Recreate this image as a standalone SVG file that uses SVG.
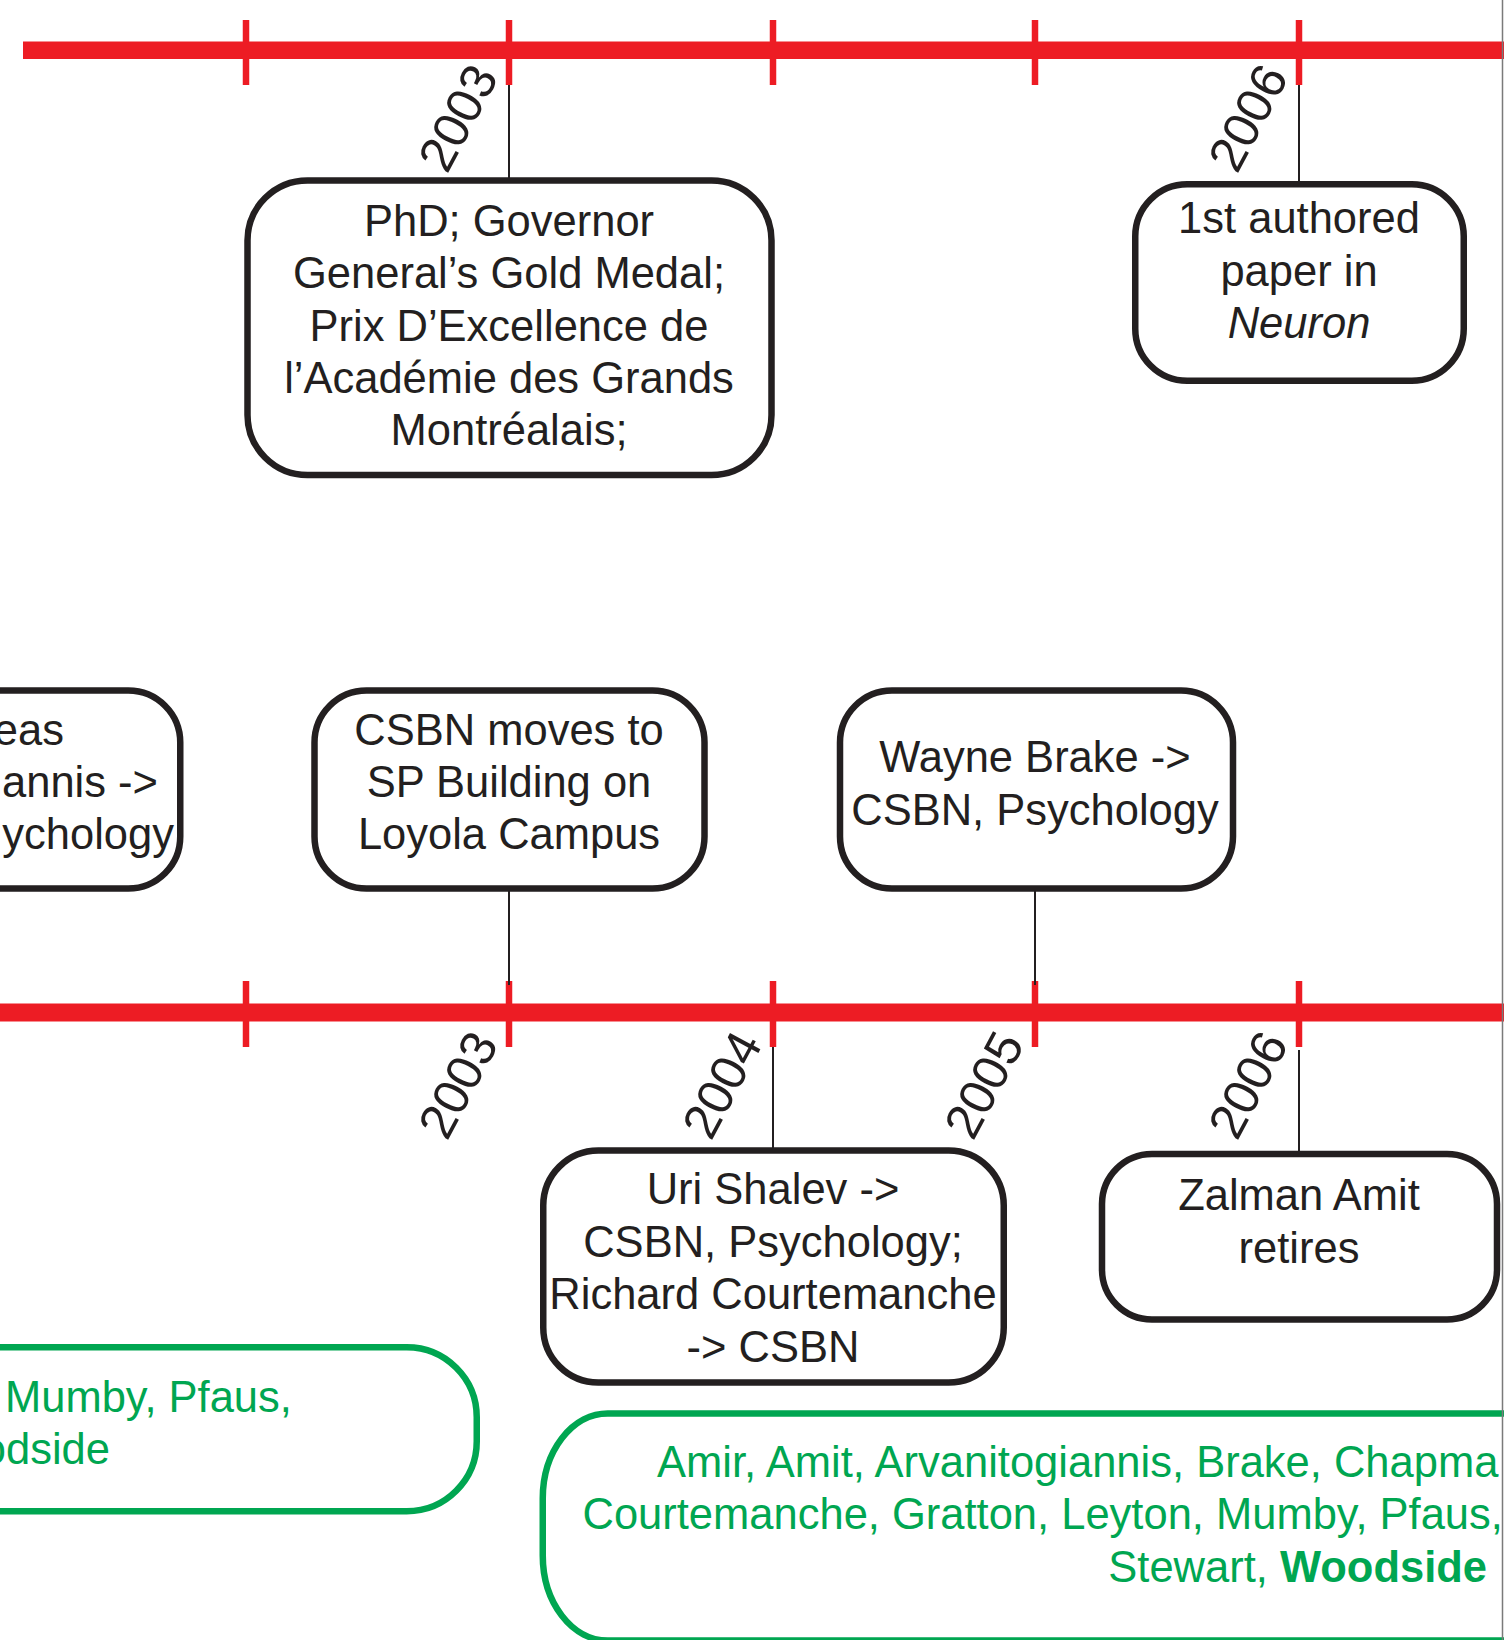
<svg xmlns="http://www.w3.org/2000/svg" width="1504" height="1640" viewBox="0 0 1504 1640">
<style>
.bar{fill:#ED1C24}
.tick{stroke:#ED1C24;stroke-width:6.5}
.conn{stroke:#231F20;stroke-width:2;fill:none}
.box{fill:#fff;stroke:#231F20;stroke-width:6.5}
.gbox{fill:#fff;stroke:#00A651;stroke-width:6.5}
.t{font-family:"Liberation Sans",Arial,Helvetica,sans-serif;font-size:43.5px;fill:#231F20;text-anchor:middle}
.g{font-family:"Liberation Sans",Arial,Helvetica,sans-serif;font-size:43.5px;fill:#00A651}
.yr{font-family:"Liberation Sans",Arial,Helvetica,sans-serif;font-size:50px;fill:#231F20}
</style>
<rect width="1504" height="1640" fill="#fff"/>
<g id="timeline-top">
<rect class="bar" x="23" y="41.5" width="1481" height="17.5"/>
<line class="tick" x1="246" y1="20" x2="246" y2="85"/>
<line class="tick" x1="509" y1="20" x2="509" y2="85"/>
<line class="tick" x1="773" y1="20" x2="773" y2="85"/>
<line class="tick" x1="1035" y1="20" x2="1035" y2="85"/>
<line class="tick" x1="1299" y1="20" x2="1299" y2="85"/>
<text class="yr" transform="translate(447,175) rotate(-62)">2003</text>
<text class="yr" transform="translate(1237,175) rotate(-62)">2006</text>
</g>
<g id="timeline-bottom">
<rect class="bar" x="0" y="1003.5" width="1504" height="18"/>
<line class="tick" x1="246" y1="981" x2="246" y2="1047"/>
<line class="tick" x1="509" y1="981" x2="509" y2="1047"/>
<line class="tick" x1="773" y1="981" x2="773" y2="1047"/>
<line class="tick" x1="1035" y1="981" x2="1035" y2="1047"/>
<line class="tick" x1="1299" y1="981" x2="1299" y2="1047"/>
<text class="yr" transform="translate(447,1142) rotate(-62)">2003</text>
<text class="yr" transform="translate(711,1142) rotate(-62)">2004</text>
<text class="yr" transform="translate(973,1142) rotate(-62)">2005</text>
<text class="yr" transform="translate(1237,1142) rotate(-62)">2006</text>
</g>
<g id="connectors">
<line class="conn" x1="509" y1="85" x2="509" y2="182"/>
<line class="conn" x1="1299" y1="85" x2="1299" y2="186"/>
<line class="conn" x1="509" y1="888" x2="509" y2="985"/>
<line class="conn" x1="1035" y1="888" x2="1035" y2="985"/>
<line class="conn" x1="773" y1="1047" x2="773" y2="1152"/>
<line class="conn" x1="1299" y1="1050" x2="1299" y2="1155"/>
</g>
<g id="phd-2003">
<rect class="box" x="247.5" y="180.5" width="524" height="294.5" rx="60"/>
<text class="t" x="509" y="236">PhD; Governor</text>
<text class="t" x="509" y="288.3">General’s Gold Medal;</text>
<text class="t" x="509" y="340.5">Prix D’Excellence de</text>
<text class="t" x="509" y="392.8">l’Académie des Grands</text>
<text class="t" x="509" y="445">Montréalais;</text>
</g>
<g id="neuron-2006">
<rect class="box" x="1135.25" y="184.25" width="328.5" height="196.5" rx="52"/>
<text class="t" x="1299" y="233">1st authored</text>
<text class="t" x="1299" y="286">paper in</text>
<text class="t" x="1299" y="338" font-style="italic">Neuron</text>
</g>
<g id="arvanitogiannis">
<rect class="box" x="-200" y="690.5" width="380.25" height="198" rx="52"/>
<text class="t" x="64" y="745" style="text-anchor:end">eas</text>
<text class="t" x="158" y="797" style="text-anchor:end">annis -&gt;</text>
<text class="t" x="174" y="849" style="text-anchor:end">ychology</text>
</g>
<g id="csbn-moves">
<rect class="box" x="314.5" y="690.5" width="390" height="198" rx="52"/>
<text class="t" x="509" y="745">CSBN moves to</text>
<text class="t" x="509" y="797">SP Building on</text>
<text class="t" x="509" y="849">Loyola Campus</text>
</g>
<g id="wayne-brake">
<rect class="box" x="840" y="690.5" width="393" height="198" rx="52"/>
<text class="t" x="1035" y="771.5">Wayne Brake -&gt;</text>
<text class="t" x="1035" y="824.5">CSBN, Psychology</text>
</g>
<g id="uri-shalev">
<rect class="box" x="543.25" y="1150.5" width="460.5" height="232" rx="55"/>
<text class="t" x="773" y="1204">Uri Shalev -&gt;</text>
<text class="t" x="773" y="1256.5">CSBN, Psychology;</text>
<text class="t" x="773" y="1309">Richard Courtemanche</text>
<text class="t" x="773" y="1361.5">-&gt; CSBN</text>
</g>
<g id="zalman-amit">
<rect class="box" x="1102" y="1154" width="395" height="165.5" rx="50"/>
<text class="t" x="1299" y="1210">Zalman Amit</text>
<text class="t" x="1299" y="1263">retires</text>
</g>
<g id="members-left">
<rect class="gbox" x="-100" y="1347.25" width="576.75" height="164" rx="70"/>
<text class="g" x="5" y="1411.5">Mumby, Pfaus,</text>
<text class="g" x="110" y="1463.5" text-anchor="end">odside</text>
</g>
<g id="members-right">
<rect class="gbox" x="542.75" y="1413.5" width="1100" height="227" rx="65" ry="85"/>
<text class="g" x="657" y="1477">Amir, Amit, Arvanitogiannis, Brake, Chapma</text>
<text class="g" x="582.5" y="1528.5">Courtemanche, Gratton, Leyton, Mumby, Pfaus,</text>
<text class="g" x="1487" y="1581.5" text-anchor="end">Stewart, <tspan font-weight="bold">Woodside</tspan></text>
</g>
<line x1="1502.5" y1="0" x2="1502.5" y2="1640" stroke="#7a7a7a" stroke-width="1.5"/>
</svg>
